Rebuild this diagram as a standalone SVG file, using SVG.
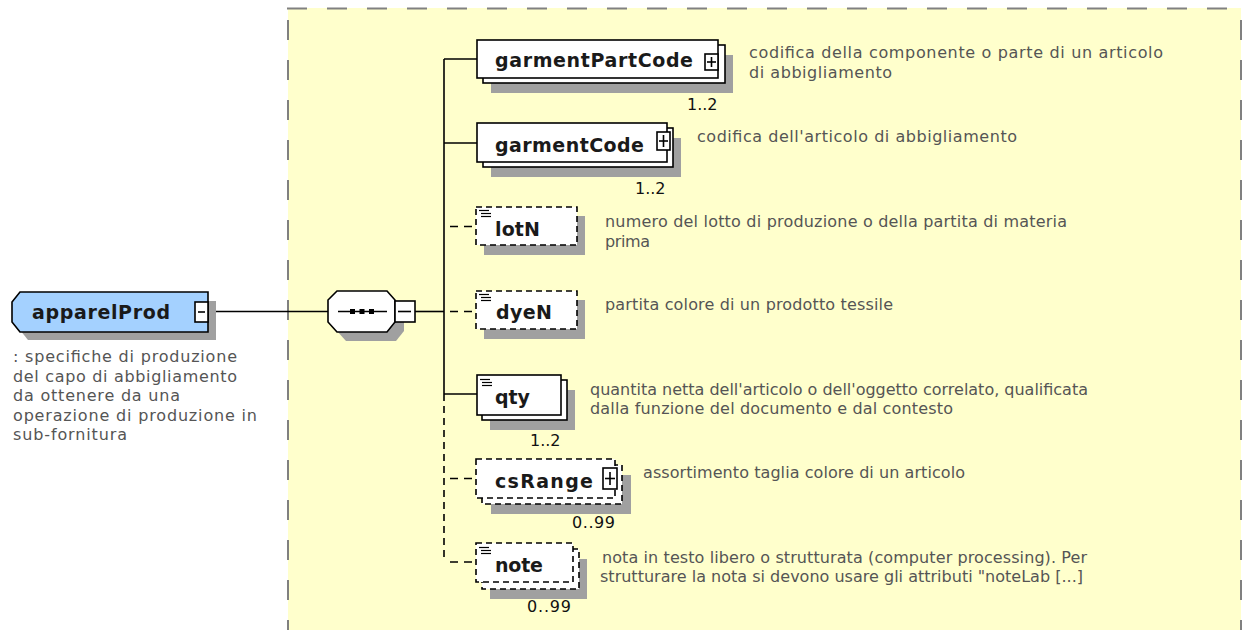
<svg xmlns="http://www.w3.org/2000/svg" width="1243" height="630" viewBox="0 0 1243 630">
<style>
.bg{fill:#ffffcc}
.bd{stroke:#808080;stroke-width:2;stroke-dasharray:20 20;fill:none}
.sh{fill:#a0a0a0}
.box{fill:#fff;stroke:#000;stroke-width:1.6}
.dbox{fill:#fff;stroke:#000;stroke-width:1.6;stroke-dasharray:6 4}
.ln{stroke:#000;stroke-width:1.6;fill:none}
.dl{stroke:#000;stroke-width:1.6;fill:none;stroke-dasharray:8 6}
.dv{stroke:#000;stroke-width:1.6;fill:none;stroke-dasharray:7 5}
.ic{stroke:#000;stroke-width:1.2}
.lbl{font-family:"DejaVu Sans",Verdana,sans-serif;font-weight:bold;font-size:19px;fill:#1a1a1a}
.desc{font-family:"DejaVu Sans",Verdana,sans-serif;font-size:16px;fill:#555}
.mul{font-family:"DejaVu Sans",Verdana,sans-serif;font-size:16px;fill:#111}
</style>
<rect width="1243" height="630" fill="#fff"/>
<rect class="bg" x="288" y="8" width="953" height="622"/>
<line class="bd" x1="287" y1="8.5" x2="1243" y2="8.5"/>
<line class="bd" x1="288" y1="20" x2="288" y2="640"/>
<line class="bd" x1="1241" y1="20" x2="1241" y2="640"/>

<g id="connectors">
<line class="ln" x1="208" y1="311.5" x2="328" y2="311.5"/>
<line class="ln" x1="415" y1="311.5" x2="444" y2="311.5"/>
<line class="ln" x1="444" y1="59" x2="444" y2="394"/>
<line class="dv" x1="444" y1="394" x2="444" y2="562"/>
<line class="ln" x1="444" y1="59" x2="477" y2="59"/>
<line class="ln" x1="444" y1="143" x2="477" y2="143"/>
<line class="dl" x1="446" y1="226.5" x2="476" y2="226.5" stroke-dashoffset="-4"/>
<line class="dl" x1="446" y1="311.5" x2="476" y2="311.5" stroke-dashoffset="-4"/>
<line class="ln" x1="444" y1="394" x2="477" y2="394"/>
<line class="dl" x1="446" y1="478.5" x2="476" y2="478.5" stroke-dashoffset="-4"/>
<line class="dl" x1="446" y1="562" x2="476" y2="562" stroke-dashoffset="-4"/>
</g>

<g id="apparelProd">
<path class="sh" d="M28,301 L216,301 L216,340 L28,340 L20,330 Z"/>
<path d="M20,292 L208,292 L208,332 L20,332 L12,322 L12,302 Z" fill="#a4d1ff" stroke="#000" stroke-width="1.6"/>
<text class="lbl" x="32" y="319" textLength="138">apparelProd</text>
<rect class="box" x="195" y="302" width="13" height="20"/>
<line class="ln" x1="198" y1="312" x2="205" y2="312"/>
<text class="desc" x="13" y="362" textLength="224">: specifiche di produzione</text>
<text class="desc" x="13" y="381.5" textLength="224">del capo di abbigliamento</text>
<text class="desc" x="13" y="401" textLength="167">da ottenere da una</text>
<text class="desc" x="13" y="420.5" textLength="244">operazione di produzione in</text>
<text class="desc" x="13" y="440" textLength="114">sub-fornitura</text>
</g>

<g id="sequence">
<path class="sh" d="M346,300 L396,300 L404,309 L404,331 L396,341 L346,341 L337,331 L337,309 Z"/>
<path d="M337,291 L387,291 L395,300 L395,322 L387,332 L337,332 L328,322 L328,300 Z" fill="#fff" stroke="#000" stroke-width="1.6"/>
<line class="ln" x1="338" y1="311.5" x2="387" y2="311.5"/>
<rect x="350" y="309" width="5" height="5" fill="#000"/>
<rect x="359.5" y="309" width="5" height="5" fill="#000"/>
<rect x="369" y="309" width="5" height="5" fill="#000"/>
<rect class="box" x="395" y="301" width="20" height="21"/>
<line class="ln" x1="398" y1="311.5" x2="411" y2="311.5"/>
</g>

<g id="garmentPartCode">
<rect class="sh" x="491" y="55" width="242" height="38"/>
<rect class="box" x="483" y="45" width="242" height="38"/>
<rect class="box" x="477" y="40" width="241" height="38"/>
<text class="lbl" x="495" y="66.5" textLength="198">garmentPartCode</text>
<rect class="box" x="705" y="54" width="13" height="16"/>
<line class="ln" x1="707" y1="62" x2="716" y2="62"/>
<line class="ln" x1="711.5" y1="57" x2="711.5" y2="67"/>
<text class="mul" x="687" y="110">1..2</text>
<text class="desc" x="749" y="58" textLength="414">codifica della componente o parte di un articolo</text>
<text class="desc" x="749" y="78" textLength="143">di abbigliamento</text>
</g>

<g id="garmentCode">
<rect class="sh" x="491" y="138" width="190" height="39"/>
<rect class="box" x="483" y="128" width="190" height="39"/>
<rect class="box" x="477" y="123" width="190" height="39"/>
<text class="lbl" x="495" y="151.5" textLength="149">garmentCode</text>
<rect class="box" x="657" y="132" width="13" height="18"/>
<line class="ln" x1="659" y1="141" x2="668" y2="141"/>
<line class="ln" x1="663.5" y1="135" x2="663.5" y2="147"/>
<text class="mul" x="635" y="194">1..2</text>
<text class="desc" x="697" y="142" textLength="320">codifica dell'articolo di abbigliamento</text>
</g>

<g id="lotN">
<rect class="sh" x="484" y="216" width="101" height="39"/>
<rect class="dbox" x="476" y="207" width="101" height="38"/>
<line class="ic" x1="479" y1="210.5" x2="489" y2="210.5"/>
<line class="ic" x1="481" y1="213.5" x2="491" y2="213.5"/>
<line class="ic" x1="481" y1="216.5" x2="491" y2="216.5"/>
<text class="lbl" x="495" y="236" textLength="45">lotN</text>
<text class="desc" x="605" y="227" textLength="462">numero del lotto di produzione o della partita di materia</text>
<text class="desc" x="605" y="247" textLength="45">prima</text>
</g>

<g id="dyeN">
<rect class="sh" x="484" y="300" width="101" height="39"/>
<rect class="dbox" x="476" y="291" width="101" height="38"/>
<line class="ic" x1="479" y1="294.5" x2="489" y2="294.5"/>
<line class="ic" x1="481" y1="297.5" x2="491" y2="297.5"/>
<line class="ic" x1="481" y1="300.5" x2="491" y2="300.5"/>
<text class="lbl" x="496" y="318.5" textLength="56">dyeN</text>
<text class="desc" x="605" y="310" textLength="288">partita colore di un prodotto tessile</text>
</g>

<g id="qty">
<rect class="sh" x="490" y="390" width="85" height="40"/>
<rect class="box" x="482" y="380" width="85" height="40"/>
<rect class="box" x="477" y="375" width="84" height="40"/>
<line class="ic" x1="480" y1="379.5" x2="490" y2="379.5"/>
<line class="ic" x1="482" y1="382.5" x2="492" y2="382.5"/>
<line class="ic" x1="482" y1="385.5" x2="492" y2="385.5"/>
<text class="lbl" x="495" y="404" textLength="35">qty</text>
<text class="mul" x="530" y="446">1..2</text>
<text class="desc" x="590" y="395" textLength="498">quantita netta dell'articolo o dell'oggetto correlato, qualificata</text>
<text class="desc" x="590" y="414" textLength="363">dalla funzione del documento e dal contesto</text>
</g>

<g id="csRange">
<rect class="sh" x="491" y="475" width="140" height="39"/>
<rect class="dbox" x="482" y="465" width="140" height="39"/>
<rect class="dbox" x="476" y="459" width="139" height="39"/>
<text class="lbl" x="495" y="488" textLength="98">csRange</text>
<rect class="box" x="603" y="468" width="14" height="21"/>
<line class="ln" x1="605" y1="478.5" x2="615" y2="478.5"/>
<line class="ln" x1="610" y1="472" x2="610" y2="485"/>
<text class="mul" x="572" y="528" textLength="43">0..99</text>
<text class="desc" x="643" y="478" textLength="322">assortimento taglia colore di un articolo</text>
</g>

<g id="note">
<rect class="sh" x="490" y="559" width="97" height="40"/>
<rect class="dbox" x="482" y="549" width="97" height="40"/>
<rect class="dbox" x="476" y="543" width="97" height="39"/>
<line class="ic" x1="479" y1="547.5" x2="489" y2="547.5"/>
<line class="ic" x1="481" y1="550.5" x2="491" y2="550.5"/>
<line class="ic" x1="481" y1="553.5" x2="491" y2="553.5"/>
<text class="lbl" x="495" y="572" textLength="48">note</text>
<text class="mul" x="527" y="611.5" textLength="44">0..99</text>
<text class="desc" x="602" y="563" textLength="485">nota in testo libero o strutturata (computer processing). Per</text>
<text class="desc" x="600" y="582" textLength="483">strutturare la nota si devono usare gli attributi "noteLab [...]</text>
</g>
</svg>
